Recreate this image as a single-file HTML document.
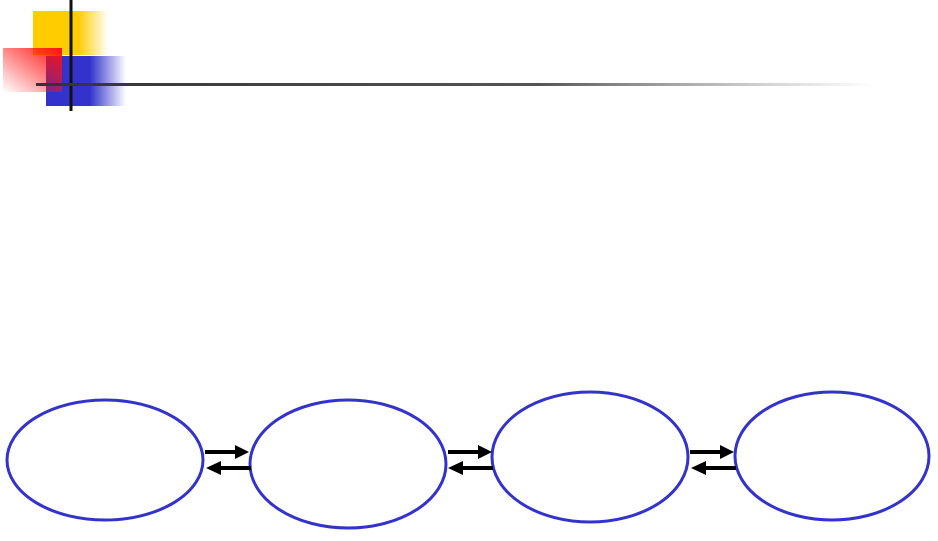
<!DOCTYPE html>
<html><head><style>body{margin:0;background:#fff;width:938px;height:536px;overflow:hidden}</style></head>
<body>
<svg width="938" height="536" viewBox="0 0 938 536" xmlns="http://www.w3.org/2000/svg">
<defs>
<linearGradient id="y" x1="0" x2="1"><stop offset="0" stop-color="#ffcc00"/><stop offset="0.6" stop-color="#ffcc00"/><stop offset="1" stop-color="#ffcc00" stop-opacity="0"/></linearGradient>
<linearGradient id="b" x1="0" x2="1"><stop offset="0" stop-color="#3333cc"/><stop offset="0.55" stop-color="#3333cc"/><stop offset="1" stop-color="#3333cc" stop-opacity="0"/></linearGradient>
<linearGradient id="r" x1="1" y1="0" x2="0" y2="1"><stop offset="0" stop-color="#ff1010"/><stop offset="1" stop-color="#ff1010" stop-opacity="0"/></linearGradient>
<linearGradient id="l" x1="0" x2="1"><stop offset="0" stop-color="#333"/><stop offset="0.6" stop-color="#555"/><stop offset="1" stop-color="#888" stop-opacity="0"/></linearGradient>
</defs>
<rect x="33" y="11" width="75" height="44" fill="url(#y)"/>
<rect x="46" y="56" width="80" height="50" fill="url(#b)"/>
<rect x="3" y="48" width="59" height="44" fill="url(#r)"/>
<line x1="71" y1="0" x2="71" y2="111" stroke="#111" stroke-width="3"/>
<rect x="36" y="83" width="840" height="3" fill="url(#l)"/>
<g fill="none" stroke="#3333cc" stroke-width="3">
<ellipse cx="105" cy="460" rx="98" ry="60"/>
<ellipse cx="348" cy="464" rx="98" ry="64"/>
<ellipse cx="590" cy="457" rx="98" ry="65"/>
<ellipse cx="832" cy="456" rx="97" ry="64"/>
</g>
<g fill="#000">
<path d="M205,450 h30 v-5 l14,7 -14,7 v-5 h-30z"/>
<path d="M251,466 h-30 v-5 l-15,7 15,7 v-5 h30z"/>
<path d="M448,450 h30 v-5 l14,7 -14,7 v-5 h-30z"/>
<path d="M493,466 h-30 v-5 l-15,7 15,7 v-5 h30z"/>
<path d="M690,450 h30 v-5 l14,7 -14,7 v-5 h-30z"/>
<path d="M736,466 h-30 v-5 l-15,7 15,7 v-5 h30z"/>
</g>
</svg>
</body></html>
